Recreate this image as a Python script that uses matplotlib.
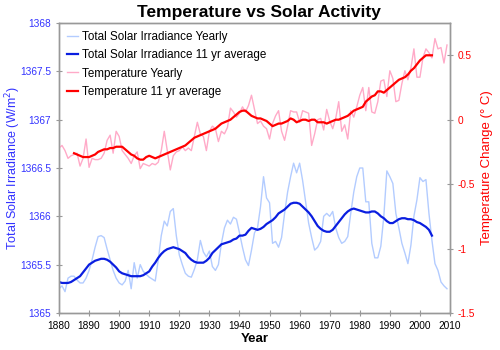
import matplotlib
matplotlib.use("Agg")
from matplotlib import pyplot as plt

plt.rcParams['font.family'] = ['Liberation Sans', 'DejaVu Sans']

# yearly total solar irradiance (W/m2), 1880-2009
tsi_years = list(range(1880, 2010))
tsi_yearly = [
    1365.25, 1365.28, 1365.22, 1365.36, 1365.38, 1365.38, 1365.34, 1365.31, 1365.31, 1365.36,
    1365.44, 1365.55, 1365.68, 1365.79, 1365.80, 1365.78, 1365.66, 1365.55, 1365.44, 1365.36,
    1365.31, 1365.29, 1365.33, 1365.44, 1365.25, 1365.52, 1365.36, 1365.50, 1365.43, 1365.40,
    1365.37, 1365.35, 1365.33, 1365.55, 1365.80, 1365.95, 1365.90, 1366.05, 1366.08, 1365.80,
    1365.60, 1365.50, 1365.41, 1365.38, 1365.37, 1365.45, 1365.55, 1365.75, 1365.63, 1365.58,
    1365.64, 1365.48, 1365.44, 1365.50, 1365.72, 1365.88, 1365.96, 1365.92, 1365.99, 1365.97,
    1365.83, 1365.68, 1365.55, 1365.49, 1365.65, 1365.83, 1365.88, 1366.10, 1366.41, 1366.19,
    1366.14, 1365.72, 1365.74, 1365.68, 1365.78, 1366.03, 1366.25, 1366.41, 1366.55, 1366.45,
    1366.55, 1366.37, 1366.15, 1365.93, 1365.78, 1365.65, 1365.68, 1365.74, 1366.00, 1366.03,
    1366.00, 1366.05, 1365.88, 1365.78, 1365.72, 1365.74, 1365.79, 1366.03, 1366.25, 1366.41,
    1366.50, 1366.50, 1366.15, 1366.15, 1365.72, 1365.57, 1365.57, 1365.69, 1366.00, 1366.47,
    1366.41, 1366.34, 1366.03, 1365.88, 1365.72, 1365.62, 1365.51, 1365.70, 1366.00, 1366.17,
    1366.40, 1366.36, 1366.38, 1366.03, 1365.75, 1365.51, 1365.44, 1365.32, 1365.28, 1365.25,
]

# 11 year running mean of TSI, 1880-2004
tsi_avg_years = list(range(1880, 2005))
tsi_avg = [
    1365.32, 1365.31, 1365.31, 1365.31, 1365.32, 1365.34, 1365.36, 1365.38, 1365.42, 1365.46,
    1365.50, 1365.52, 1365.54, 1365.55, 1365.56, 1365.56, 1365.55, 1365.53, 1365.50, 1365.47,
    1365.43, 1365.41, 1365.40, 1365.39, 1365.38, 1365.38, 1365.38, 1365.38, 1365.39, 1365.41,
    1365.43, 1365.48, 1365.52, 1365.57, 1365.61, 1365.64, 1365.66, 1365.67, 1365.68, 1365.67,
    1365.66, 1365.64, 1365.62, 1365.58, 1365.55, 1365.53, 1365.52, 1365.52, 1365.52, 1365.54,
    1365.57, 1365.62, 1365.65, 1365.68, 1365.71, 1365.72, 1365.73, 1365.74, 1365.76, 1365.77,
    1365.80, 1365.80, 1365.81, 1365.85, 1365.88, 1365.87, 1365.86, 1365.87, 1365.89, 1365.92,
    1365.94, 1365.96, 1365.99, 1366.03, 1366.05, 1366.07, 1366.10, 1366.13, 1366.14, 1366.14,
    1366.13, 1366.10, 1366.07, 1366.04, 1366.00, 1365.95, 1365.90, 1365.87, 1365.85, 1365.84,
    1365.84, 1365.86, 1365.90, 1365.94, 1365.98, 1366.02, 1366.05, 1366.07, 1366.08, 1366.07,
    1366.06, 1366.05, 1366.04, 1366.04, 1366.05, 1366.05, 1366.03, 1366.00, 1365.98, 1365.95,
    1365.93, 1365.93, 1365.95, 1365.97, 1365.98, 1365.98, 1365.97, 1365.97, 1365.96, 1365.94,
    1365.93, 1365.91, 1365.89, 1365.86, 1365.80,
]

# yearly temperature anomaly (deg C), 1880-2009
temp_years = list(range(1880, 2010))
temp_yearly = [
    -0.22, -0.20, -0.24, -0.30, -0.28, -0.27, -0.26, -0.36, -0.30, -0.15,
    -0.37, -0.30, -0.31, -0.31, -0.30, -0.26, -0.16, -0.12, -0.26, -0.09,
    -0.13, -0.24, -0.27, -0.30, -0.34, -0.28, -0.25, -0.38, -0.34, -0.35,
    -0.36, -0.34, -0.35, -0.33, -0.24, -0.09, -0.24, -0.39, -0.28, -0.25,
    -0.24, -0.21, -0.24, -0.22, -0.24, -0.13, -0.02, -0.11, -0.13, -0.24,
    -0.09, -0.05, -0.07, -0.17, -0.09, -0.11, -0.06, 0.09, 0.06, 0.02,
    0.05, 0.10, 0.06, 0.11, 0.19, 0.08, -0.03, -0.01, -0.05, -0.07,
    -0.15, -0.03, 0.03, 0.07, -0.09, -0.16, -0.05, 0.07, 0.06, 0.06,
    -0.02, 0.07, 0.06, 0.05, -0.20, -0.11, 0.00, 0.01, -0.08, 0.08,
    -0.01, -0.07, 0.01, 0.14, -0.09, -0.04, -0.15, 0.07, 0.02, 0.10,
    0.19, 0.25, 0.07, 0.25, 0.06, 0.05, 0.14, 0.30, 0.31, 0.18,
    0.38, 0.32, 0.14, 0.15, 0.28, 0.38, 0.31, 0.40, 0.55, 0.33,
    0.33, 0.48, 0.55, 0.52, 0.48, 0.63, 0.55, 0.56, 0.44, 0.58,
]

# 11 year running mean of temperature, 1885-2004
temp_avg_years = list(range(1885, 2005))
temp_avg = [
    -0.26, -0.27, -0.28, -0.29, -0.29,
    -0.29, -0.28, -0.27, -0.25, -0.24, -0.23, -0.23, -0.22, -0.22, -0.21,
    -0.21, -0.21, -0.23, -0.25, -0.27, -0.28, -0.30, -0.31, -0.31, -0.29,
    -0.28, -0.29, -0.30, -0.29, -0.28, -0.27, -0.26, -0.25, -0.24, -0.23,
    -0.22, -0.21, -0.20, -0.18, -0.16, -0.14, -0.13, -0.12, -0.11, -0.10,
    -0.09, -0.08, -0.07, -0.05, -0.03, -0.02, -0.01, 0.00, 0.02, 0.04,
    0.06, 0.07, 0.07, 0.05, 0.03, 0.02, 0.01, 0.01, 0.00, -0.01,
    -0.03, -0.05, -0.04, -0.03, -0.03, -0.02, -0.01, 0.01, 0.00, -0.02,
    -0.01, 0.00, 0.00, -0.01, 0.00, 0.00, -0.02, -0.02, -0.02, -0.03,
    -0.02, -0.01, 0.00, 0.00, 0.01, 0.02, 0.03, 0.05, 0.07, 0.08,
    0.09, 0.10, 0.14, 0.16, 0.18, 0.19, 0.22, 0.22, 0.21, 0.23,
    0.25, 0.27, 0.29, 0.31, 0.32, 0.33, 0.35, 0.38, 0.40, 0.43,
    0.46, 0.48, 0.50, 0.50, 0.50,
]

left_ticks = [1365, 1365.5, 1366, 1366.5, 1367, 1367.5, 1368]
left_labels = ['1365', '1365.5', '1366', '1366.5', '1367', '1367.5', '1368']
right_ticks = [-1.5, -1, -0.5, 0, 0.5]
right_labels = ['-1.5', '-1', '-0.5', '0', '0.5']
year_ticks = list(range(1880, 2011, 10))

tsi_color = '#3333ff'
temp_color = '#ff0000'
grey = '#999999'

fig = plt.figure(figsize=(5, 3.5), dpi=100)
ax = fig.add_axes([0.118, 0.106, 0.782, 0.828])
ax2 = ax.twinx()

l1, = ax.plot(tsi_years, tsi_yearly, color='#b3ccff', lw=1.0)
l2, = ax.plot(tsi_avg_years, tsi_avg, color='#0a1ee0', lw=1.6)
l3, = ax2.plot(temp_years, temp_yearly, color='#ffaac8', lw=1.0)
l4, = ax2.plot(temp_avg_years, temp_avg, color='#ff0000', lw=1.6)

ax.set_xlim(1880, 2010)
ax.set_ylim(1365, 1368)
ax2.set_ylim(-1.5, 0.75)

ax.set_xticks(year_ticks)
ax.set_yticks(left_ticks)
ax.set_yticklabels(left_labels)
ax2.set_yticks(right_ticks)
ax2.set_yticklabels(right_labels)

for a in (ax, ax2):
    for s in a.spines.values():
        s.set_color(grey)
        s.set_linewidth(1.0)
    a.tick_params(direction='inout', length=5, color=grey, labelsize=7.3, pad=3)
ax.tick_params(axis='y', labelcolor=tsi_color)
ax.tick_params(axis='x', labelcolor='black')
ax2.tick_params(axis='y', labelcolor=temp_color)

ax.set_xlabel('Year', fontsize=9.5, fontweight='bold', labelpad=2)
# left label placed by hand so it stays inside the figure
fig.text(0.026, 0.52, 'Total Solar Irradiance (W/m$^2$)', color=tsi_color, fontsize=9,
         rotation=90, ha='center', va='center')
ax2.set_ylabel('Temperature Change (° C)', color=temp_color, fontsize=9.5, labelpad=4)

fig.suptitle('Temperature vs Solar Activity', x=0.518, y=0.985, fontsize=12.5, fontweight='bold')

ax.legend([l1, l2, l3, l4],
          ['Total Solar Irradiance Yearly', 'Total Solar Irradiance 11 yr average',
           'Temperature Yearly', 'Temperature 11 yr average'],
          loc='upper left', frameon=False, fontsize=8.4, handlelength=1.0,
          handletextpad=0.35, labelspacing=0.55, borderaxespad=0.25)

fig.savefig('out.png', dpi=100)
